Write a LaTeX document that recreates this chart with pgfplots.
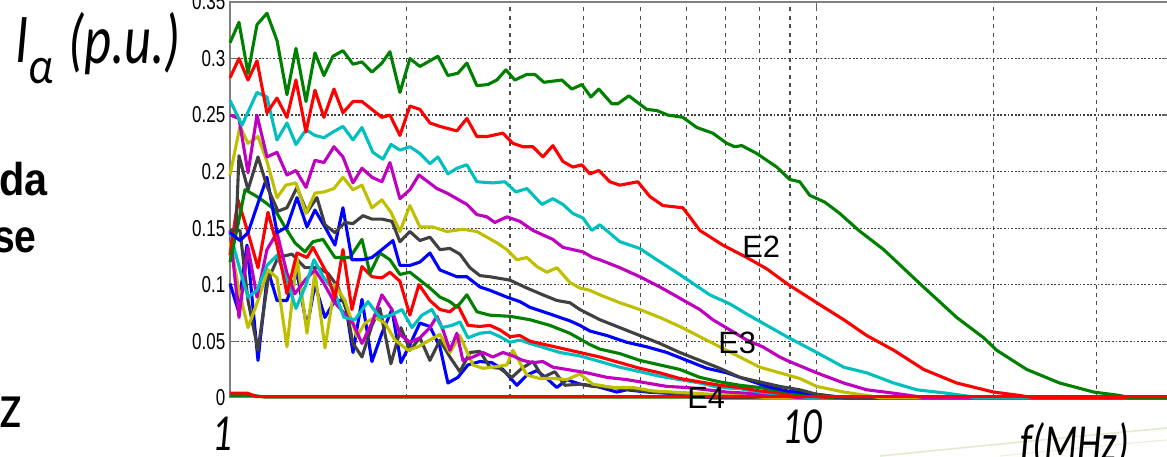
\documentclass[border=0pt]{standalone}
\usepackage{pgfplots}
\pgfplotsset{compat=1.18}
\usepackage{fontspec}
\setmainfont{Liberation Sans}
\newfontfamily\carlito{Carlito}
\definecolor{mg}{rgb}{0,0.5,0}
\definecolor{mr}{rgb}{1,0,0}
\definecolor{mc}{rgb}{0,0.75,0.75}
\definecolor{mm}{rgb}{0.75,0,0.75}
\definecolor{my}{rgb}{0.75,0.75,0}
\definecolor{mk}{rgb}{0.25,0.25,0.25}
\definecolor{mb}{rgb}{0,0,1}
\definecolor{swoosh}{rgb}{0.88,0.92,0.80}
\begin{document}
\begin{tikzpicture}
\useasboundingbox (0,0) rectangle (583.5pt,-228pt);
\clip (0,0) rectangle (583.5pt,-228pt);
% faint slide decoration
\draw[swoosh, line width=0.8pt] (440pt,-228pt) .. controls (500pt,-222pt) and (540pt,-218pt) .. (583.5pt,-214pt);
\draw[swoosh!70, line width=0.6pt] (500pt,-228pt) .. controls (530pt,-225pt) and (560pt,-222pt) .. (583.5pt,-220pt);
\begin{axis}[
  at={(115pt,-198.85pt)}, anchor=south west,
  width=470pt, height=197.85pt, scale only axis,
  xmin=0, xmax=1.60206, ymin=0, ymax=0.35,
  clip=false,
  xtick={0,1}, xticklabels={},
  minor xtick={0.30103,0.47712,0.60206,0.69897,0.77815,0.84510,0.90309,0.95424,1.30103,1.47712},
  ytick={0,0.05,0.1,0.15,0.2,0.25,0.3,0.35},
  yticklabels={0,0.05,0.1,0.15,0.2,0.25,0.3,0.35},
  yticklabel style={font=\fontsize{11.5}{11.5}\selectfont, xscale=0.74, anchor=east, inner sep=0pt, xshift=-3pt},
  grid=both,
  x grid style={black!70, line width=0.6pt, dash pattern=on 2pt off 2.2pt},
  y grid style={black!75, line width=0.6pt, dash pattern=on 0.9pt off 0.9pt},
  tick align=inside, tick pos=both,
  major tick length=4pt, minor tick length=0pt,
  tick style={black!60, line width=0.6pt},
  axis line style={black!50, line width=0.7pt},
  every axis plot/.append style={line width=1.55pt, line join=round, mark=none},
]
% zero green
\addplot[mg] coordinates {(0,0.002) (0.04,0.002) (0.06,0.0005) (1.6014,0.0005)};
% blue 2
\addplot[mb] coordinates {(0,0.101) (0.0136,0.078) (0.0290,0.135) (0.0477,0.033) (0.0647,0.113) (0.0801,0.086) (0.0971,0.086) (0.1141,0.111) (0.1312,0.062) (0.1448,0.100) (0.1618,0.071) (0.1789,0.086) (0.1959,0.086) (0.2096,0.040) (0.2249,0.087) (0.2419,0.032) (0.2589,0.057) (0.2760,0.078) (0.2913,0.031) (0.3066,0.047) (0.3237,0.066) (0.3407,0.063) (0.3578,0.045) (0.3714,0.013) (0.3884,0.018) (0.4055,0.029) (0.4259,0.032) (0.4463,0.031) (0.4651,0.025) (0.4889,0.011) (0.5060,0.020) (0.5230,0.024) (0.5400,0.017) (0.5571,0.009) (0.5741,0.016) (0.5963,0.012) (0.6252,0.010) (0.6593,0.005) (0.6763,0.007) (0.7104,0.005) (0.7445,0.004) (0.7785,0.002) (0.8228,0) (1.6014,0)};
% gray 2
\addplot[mk] coordinates {(0,0.148) (0.0170,0.148) (0.0307,0.086) (0.0477,0.042) (0.0647,0.104) (0.0818,0.124) (0.1056,0.127) (0.1278,0.115) (0.1499,0.115) (0.1670,0.110) (0.1840,0.098) (0.1993,0.076) (0.2096,0.048) (0.2249,0.036) (0.2419,0.064) (0.2555,0.079) (0.2743,0.030) (0.2913,0.062) (0.3066,0.042) (0.3237,0.053) (0.3407,0.033) (0.3578,0.051) (0.3748,0.036) (0.3918,0.023) (0.4089,0.040) (0.4259,0.041) (0.4429,0.027) (0.4600,0.026) (0.4804,0.018) (0.4974,0.026) (0.5162,0.032) (0.5332,0.018) (0.5537,0.023) (0.5707,0.011) (0.5963,0.012) (0.6184,0.010) (0.6525,0.009) (0.6865,0.007) (0.7206,0.005) (0.7547,0.004) (0.7956,0.002) (0.8228,0) (1.6014,0)};
% yellow 2
\addplot[my] coordinates {(0,0.139) (0.0153,0.095) (0.0307,0.062) (0.0477,0.086) (0.0647,0.113) (0.0801,0.106) (0.0971,0.045) (0.1141,0.124) (0.1312,0.057) (0.1448,0.111) (0.1618,0.044) (0.1789,0.100) (0.1959,0.086) (0.2164,0.054) (0.2300,0.066) (0.2470,0.071) (0.2641,0.066) (0.2811,0.051) (0.3032,0.042) (0.3203,0.045) (0.3407,0.051) (0.3578,0.056) (0.3748,0.040) (0.3918,0.055) (0.4140,0.029) (0.4310,0.026) (0.4480,0.027) (0.4719,0.029) (0.4821,0.042) (0.5060,0.020) (0.5281,0.017) (0.5503,0.017) (0.5741,0.016) (0.5963,0.021) (0.6184,0.012) (0.6525,0.009) (0.6865,0.009) (0.7206,0.006) (0.7547,0.005) (0.7888,0.004) (0.8228,0.003) (0.8807,0.0015) (0.9199,0) (1.6014,0)};
% magenta 2
\addplot[mm] coordinates {(0,0.148) (0.0153,0.071) (0.0307,0.133) (0.0460,0.089) (0.0630,0.131) (0.0801,0.146) (0.0971,0.110) (0.1107,0.092) (0.1278,0.104) (0.1448,0.113) (0.1601,0.101) (0.1772,0.085) (0.1925,0.076) (0.2096,0.066) (0.2249,0.048) (0.2419,0.066) (0.2589,0.091) (0.2760,0.078) (0.2896,0.056) (0.3066,0.049) (0.3237,0.053) (0.3407,0.062) (0.3526,0.072) (0.3629,0.060) (0.3748,0.042) (0.3867,0.057) (0.3969,0.033) (0.4140,0.036) (0.4310,0.040) (0.4480,0.036) (0.4651,0.040) (0.4821,0.037) (0.4991,0.033) (0.5162,0.031) (0.5332,0.032) (0.5503,0.027) (0.5741,0.025) (0.6082,0.022) (0.6422,0.018) (0.6763,0.016) (0.7104,0.013) (0.7445,0.010) (0.7785,0.009) (0.8126,0.007) (0.8467,0.005) (0.8807,0.004) (0.9370,0.002) (0.9710,0) (1.6014,0)};
% cyan 2
\addplot[mc] coordinates {(0,0.146) (0.0170,0.113) (0.0307,0.089) (0.0460,0.095) (0.0630,0.117) (0.0801,0.126) (0.0971,0.104) (0.1124,0.079) (0.1295,0.100) (0.1431,0.122) (0.1601,0.106) (0.1772,0.095) (0.1942,0.071) (0.2129,0.069) (0.2351,0.085) (0.2555,0.071) (0.2743,0.073) (0.2930,0.078) (0.3101,0.062) (0.3271,0.073) (0.3441,0.078) (0.3612,0.062) (0.3782,0.064) (0.3918,0.067) (0.4055,0.053) (0.4259,0.057) (0.4429,0.058) (0.4600,0.054) (0.4770,0.049) (0.4940,0.051) (0.5111,0.048) (0.5366,0.044) (0.5622,0.040) (0.5963,0.037) (0.6303,0.032) (0.6644,0.027) (0.6985,0.023) (0.7325,0.019) (0.7666,0.016) (0.8007,0.013) (0.8348,0.009) (0.8688,0.008) (0.9029,0.005) (0.9370,0.003) (0.9881,0) (1.6014,0)};
% red 2
\addplot[mr] coordinates {(0,0.126) (0.0136,0.175) (0.0307,0.146) (0.0477,0.115) (0.0647,0.164) (0.0801,0.135) (0.0971,0.092) (0.1141,0.128) (0.1312,0.124) (0.1414,0.133) (0.1652,0.110) (0.1789,0.088) (0.1925,0.131) (0.2078,0.078) (0.2249,0.116) (0.2419,0.107) (0.2589,0.106) (0.2726,0.111) (0.2896,0.103) (0.3066,0.073) (0.3220,0.100) (0.3407,0.086) (0.3578,0.078) (0.3748,0.076) (0.3884,0.082) (0.4055,0.064) (0.4259,0.063) (0.4429,0.064) (0.4600,0.060) (0.4770,0.054) (0.4940,0.055) (0.5111,0.050) (0.5366,0.047) (0.5622,0.044) (0.5963,0.040) (0.6303,0.036) (0.6644,0.031) (0.6985,0.026) (0.7325,0.022) (0.7666,0.017) (0.8007,0.014) (0.8348,0.011) (0.8688,0.009) (0.9029,0.006) (0.9370,0.004) (0.9881,0.0015) (1.0221,0) (1.6014,0)};
% green 2
\addplot[mg] coordinates {(0,0.120) (0.0136,0.153) (0.0256,0.184) (0.0426,0.179) (0.0596,0.173) (0.0767,0.166) (0.0937,0.151) (0.1107,0.137) (0.1278,0.129) (0.1414,0.138) (0.1584,0.140) (0.1789,0.124) (0.2044,0.124) (0.2249,0.140) (0.2385,0.110) (0.2555,0.128) (0.2726,0.122) (0.2896,0.109) (0.3066,0.111) (0.3237,0.104) (0.3407,0.097) (0.3578,0.089) (0.3748,0.085) (0.3867,0.080) (0.4037,0.091) (0.4208,0.076) (0.4429,0.073) (0.4770,0.072) (0.5111,0.069) (0.5451,0.064) (0.5792,0.057) (0.6133,0.047) (0.6303,0.043) (0.6644,0.039) (0.6985,0.033) (0.7325,0.029) (0.7666,0.025) (0.8007,0.018) (0.8348,0.014) (0.8688,0.011) (0.9029,0.009) (0.9370,0.006) (0.9710,0.003) (1.0290,0) (1.6014,0)};
% blue 1
\addplot[mb] coordinates {(0,0.146) (0.0170,0.139) (0.0307,0.146) (0.0477,0.172) (0.0630,0.195) (0.0801,0.146) (0.0971,0.151) (0.1141,0.177) (0.1312,0.151) (0.1448,0.166) (0.1618,0.151) (0.1789,0.135) (0.1925,0.168) (0.2078,0.122) (0.2249,0.122) (0.2419,0.124) (0.2589,0.131) (0.2777,0.139) (0.2896,0.117) (0.3066,0.117) (0.3237,0.120) (0.3407,0.128) (0.3578,0.113) (0.3867,0.107) (0.4037,0.107) (0.4259,0.098) (0.4429,0.095) (0.4719,0.089) (0.4940,0.085) (0.5111,0.080) (0.5400,0.075) (0.5622,0.071) (0.5792,0.068) (0.5963,0.064) (0.6133,0.059) (0.6422,0.055) (0.6763,0.049) (0.7104,0.045) (0.7445,0.040) (0.7785,0.033) (0.8126,0.026) (0.8467,0.022) (0.8807,0.016) (0.9148,0.010) (0.9489,0.006) (1.0000,0.003) (1.0460,0) (1.6014,0)};
% gray 1
\addplot[mk] coordinates {(0,0.148) (0.0102,0.148) (0.0153,0.214) (0.0307,0.184) (0.0477,0.213) (0.0630,0.187) (0.0818,0.165) (0.0971,0.168) (0.1141,0.186) (0.1312,0.164) (0.1482,0.177) (0.1618,0.153) (0.1789,0.146) (0.1959,0.155) (0.2096,0.154) (0.2266,0.161) (0.2419,0.158) (0.2589,0.158) (0.2760,0.156) (0.2896,0.138) (0.3066,0.147) (0.3237,0.139) (0.3407,0.142) (0.3578,0.131) (0.3748,0.132) (0.3918,0.127) (0.4089,0.115) (0.4259,0.108) (0.4429,0.107) (0.4770,0.104) (0.5060,0.097) (0.5332,0.091) (0.5571,0.086) (0.5792,0.084) (0.5963,0.078) (0.6303,0.069) (0.6644,0.062) (0.6985,0.055) (0.7325,0.048) (0.7666,0.040) (0.8007,0.033) (0.8348,0.026) (0.8688,0.018) (0.9029,0.014) (0.9370,0.010) (0.9710,0.007) (1.0000,0.003) (1.0460,0) (1.6014,0)};
% yellow 1
\addplot[my] coordinates {(0,0.197) (0.0170,0.240) (0.0307,0.225) (0.0477,0.231) (0.0630,0.209) (0.0801,0.177) (0.0954,0.188) (0.1124,0.190) (0.1295,0.163) (0.1448,0.181) (0.1601,0.182) (0.1772,0.185) (0.1925,0.195) (0.2096,0.184) (0.2249,0.188) (0.2419,0.168) (0.2589,0.175) (0.2743,0.164) (0.2896,0.147) (0.3066,0.170) (0.3237,0.151) (0.3458,0.151) (0.3697,0.147) (0.3969,0.149) (0.4208,0.147) (0.4378,0.142) (0.4549,0.137) (0.4719,0.131) (0.4889,0.122) (0.5060,0.124) (0.5230,0.116) (0.5400,0.111) (0.5571,0.115) (0.5792,0.102) (0.5963,0.097) (0.6133,0.095) (0.6303,0.091) (0.6644,0.084) (0.6985,0.078) (0.7325,0.071) (0.7666,0.063) (0.8007,0.054) (0.8348,0.045) (0.8688,0.036) (0.9029,0.027) (0.9370,0.022) (0.9710,0.017) (1.0000,0.010) (1.0460,0.005) (1.0852,0.002) (1.1073,0) (1.6014,0)};
% magenta 1
\addplot[mm] coordinates {(0,0.250) (0.0153,0.247) (0.0307,0.199) (0.0460,0.250) (0.0630,0.213) (0.0801,0.217) (0.0971,0.197) (0.1124,0.201) (0.1295,0.186) (0.1448,0.210) (0.1601,0.208) (0.1772,0.222) (0.1925,0.213) (0.2096,0.190) (0.2249,0.203) (0.2419,0.195) (0.2589,0.191) (0.2726,0.208) (0.2896,0.176) (0.3066,0.184) (0.3220,0.197) (0.3526,0.185) (0.3697,0.181) (0.4037,0.171) (0.4208,0.162) (0.4378,0.160) (0.4514,0.155) (0.4719,0.160) (0.4940,0.156) (0.5162,0.148) (0.5503,0.140) (0.5673,0.133) (0.6014,0.129) (0.6184,0.124) (0.6303,0.122) (0.6644,0.115) (0.6985,0.107) (0.7325,0.098) (0.7666,0.088) (0.8007,0.078) (0.8228,0.069) (0.8518,0.060) (0.8807,0.051) (0.9080,0.045) (0.9370,0.036) (0.9489,0.033) (1.0000,0.022) (1.0460,0.013) (1.0852,0.007) (1.1312,0.004) (1.1652,0.0015) (1.1840,0) (1.6014,0)};
% cyan 1
\addplot[mc] coordinates {(0,0.263) (0.0204,0.241) (0.0460,0.270) (0.0630,0.266) (0.0801,0.228) (0.0971,0.243) (0.1124,0.224) (0.1295,0.237) (0.1448,0.232) (0.1601,0.230) (0.1755,0.235) (0.1925,0.240) (0.2096,0.228) (0.2249,0.239) (0.2436,0.217) (0.2606,0.211) (0.2743,0.224) (0.2896,0.219) (0.3066,0.222) (0.3237,0.216) (0.3407,0.207) (0.3543,0.213) (0.3714,0.198) (0.3867,0.203) (0.4037,0.206) (0.4208,0.191) (0.4480,0.190) (0.4685,0.191) (0.4872,0.182) (0.5060,0.185) (0.5315,0.171) (0.5503,0.176) (0.5673,0.171) (0.5843,0.163) (0.6014,0.159) (0.6167,0.148) (0.6303,0.153) (0.6644,0.138) (0.6985,0.132) (0.7274,0.122) (0.7547,0.113) (0.7836,0.103) (0.8177,0.091) (0.8518,0.083) (0.8807,0.074) (0.9148,0.064) (0.9489,0.054) (1.0000,0.040) (1.0460,0.027) (1.0852,0.022) (1.1312,0.013) (1.1704,0.007) (1.2215,0.004) (1.2555,0.0015) (1.2692,0) (1.6014,0)};
% red 1 (E2)
\addplot[mr] coordinates {(0,0.283) (0.0153,0.300) (0.0307,0.281) (0.0460,0.298) (0.0630,0.252) (0.0801,0.265) (0.0971,0.248) (0.1124,0.281) (0.1295,0.235) (0.1448,0.272) (0.1601,0.248) (0.1772,0.273) (0.1925,0.252) (0.2096,0.262) (0.2249,0.262) (0.2419,0.255) (0.2589,0.248) (0.2726,0.250) (0.2896,0.232) (0.3066,0.258) (0.3237,0.255) (0.3407,0.243) (0.3578,0.240) (0.3867,0.236) (0.4037,0.247) (0.4208,0.231) (0.4378,0.231) (0.4651,0.234) (0.4821,0.225) (0.4991,0.222) (0.5162,0.222) (0.5332,0.213) (0.5503,0.223) (0.5673,0.209) (0.5843,0.204) (0.5997,0.206) (0.6133,0.198) (0.6286,0.201) (0.6474,0.191) (0.6644,0.188) (0.6951,0.191) (0.7155,0.178) (0.7376,0.170) (0.7717,0.168) (0.7836,0.160) (0.8007,0.148) (0.8399,0.135) (0.8807,0.124) (0.9148,0.114) (0.9489,0.101) (1.0000,0.084) (1.0460,0.069) (1.0852,0.055) (1.1312,0.042) (1.1823,0.025) (1.2385,0.013) (1.3015,0.005) (1.3458,0.002) (1.3697,0) (1.6014,0)};
% green 1
\addplot[mg] coordinates {(0,0.314) (0.0153,0.332) (0.0307,0.287) (0.0460,0.330) (0.0630,0.340) (0.0801,0.316) (0.0971,0.268) (0.1124,0.309) (0.1295,0.262) (0.1448,0.305) (0.1601,0.285) (0.1755,0.302) (0.1925,0.307) (0.2096,0.295) (0.2249,0.297) (0.2419,0.288) (0.2589,0.296) (0.2726,0.306) (0.2896,0.270) (0.3066,0.300) (0.3237,0.293) (0.3543,0.302) (0.3714,0.285) (0.3884,0.287) (0.4037,0.296) (0.4208,0.276) (0.4395,0.277) (0.4549,0.281) (0.4702,0.290) (0.4855,0.281) (0.5060,0.286) (0.5196,0.286) (0.5349,0.279) (0.5656,0.281) (0.5826,0.273) (0.5997,0.277) (0.6150,0.266) (0.6286,0.273) (0.6508,0.260) (0.6610,0.260) (0.6797,0.267) (0.7104,0.255) (0.7274,0.254) (0.7462,0.250) (0.7717,0.248) (0.7956,0.239) (0.8228,0.234) (0.8467,0.225) (0.8603,0.222) (0.8722,0.223) (0.8978,0.216) (0.9148,0.210) (0.9319,0.204) (0.9540,0.193) (0.9710,0.191) (0.9881,0.179) (1.0136,0.173) (1.0392,0.163) (1.0715,0.148) (1.1141,0.131) (1.1755,0.101) (1.2385,0.071) (1.2845,0.053) (1.3066,0.042) (1.3578,0.025) (1.4140,0.013) (1.4719,0.005) (1.5162,0.002) (1.5332,0) (1.6014,0)};
% zero red (on top)
\addplot[mr] coordinates {(0,0.004) (0.03,0.004) (0.045,0.001) (1.6014,0.001)};
\end{axis}
% slide annotations
\node[anchor=base west, xscale=0.75, inner sep=0pt] at (7.5pt,-31pt) {\carlito\itshape\fontsize{35}{35}\selectfont I};
\node[anchor=base west, xscale=0.85, inner sep=0pt] at (14pt,-41.5pt) {\carlito\itshape\fontsize{26}{26}\selectfont α};
\node[anchor=base west, xscale=0.75, inner sep=0pt] at (34pt,-31.5pt) {\carlito\itshape\fontsize{35}{35}\selectfont (p.u.)};
\node[anchor=base east, xscale=0.9, inner sep=0pt] at (24pt,-97.5pt) {\bfseries\fontsize{23}{23}\selectfont da};
\node[anchor=base east, xscale=0.85, inner sep=0pt] at (18.5pt,-126pt) {\bfseries\fontsize{23}{23}\selectfont se};
\node[anchor=base east, xscale=0.9, inner sep=0pt] at (11.5pt,-213.5pt) {\carlito\fontsize{32}{32}\selectfont z};
\node[anchor=base west, xscale=0.75, inner sep=0pt] at (106pt,-225pt) {\carlito\itshape\fontsize{26}{26}\selectfont 1};
\node[anchor=base west, xscale=0.75, inner sep=0pt] at (391pt,-221.5pt) {\carlito\itshape\fontsize{26}{26}\selectfont 10};
\node[anchor=base west, xscale=0.75, inner sep=0pt] at (510pt,-230pt) {\carlito\itshape\fontsize{26}{26}\selectfont f(MHz)};
\node[anchor=base west, inner sep=0pt] at (371pt,-128.5pt) {\fontsize{15.4}{15.4}\selectfont E2};
\node[anchor=base west, inner sep=0pt] at (359pt,-176.5pt) {\fontsize{15.4}{15.4}\selectfont E3};
\node[anchor=base west, inner sep=0pt] at (343.5pt,-204pt) {\fontsize{15.4}{15.4}\selectfont E4};
\end{tikzpicture}
\end{document}
